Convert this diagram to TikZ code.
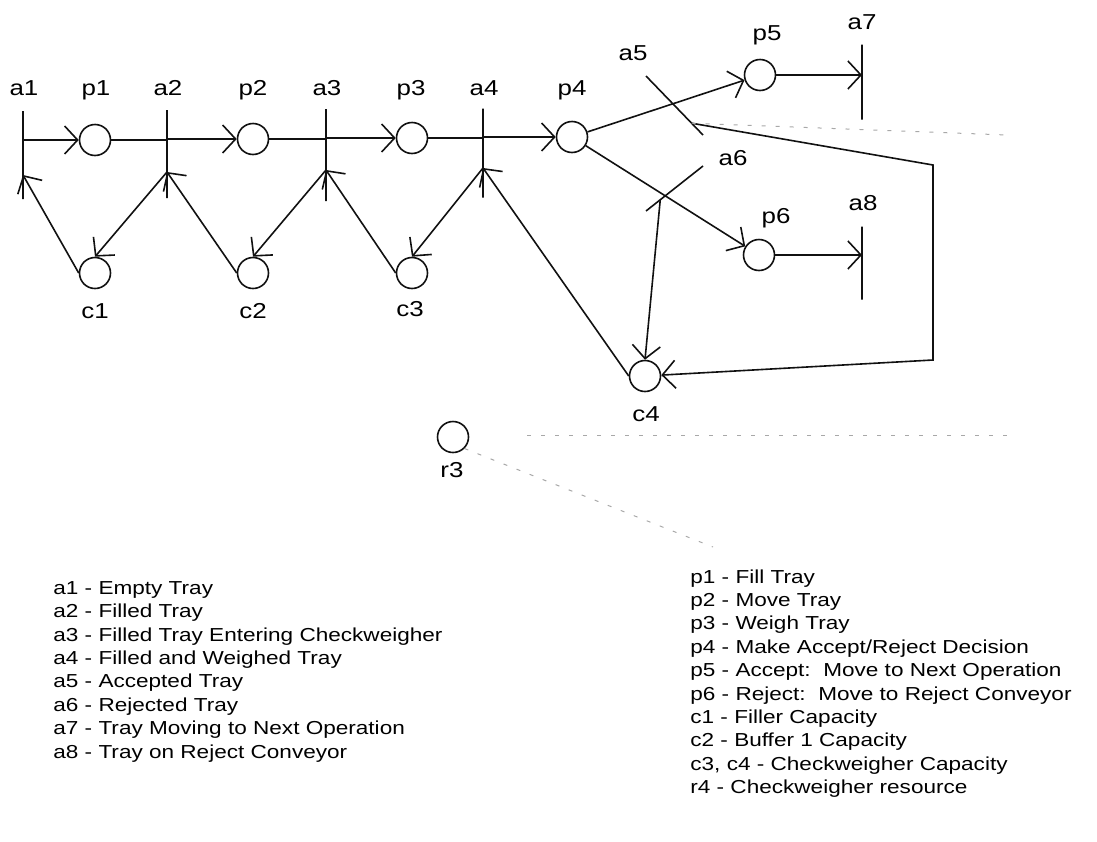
\documentclass[tikz,border=0pt]{standalone}
\usepackage{fontspec}
\setmainfont{Liberation Sans}[FakeStretch=1.2]
\usepackage{tikz}
\usetikzlibrary{calc,arrows.meta}
\definecolor{inkc}{HTML}{111111}
\definecolor{fadec}{HTML}{A8A8A8}
\tikzset{
  ar/.style={-{Straight Barb[length=6.5pt,width=14pt]},line width=0.8pt,inkc},
  ln/.style={line width=0.8pt,inkc},
  pl/.style={circle,draw=inkc,line width=0.8pt,minimum size=15.5pt,inner sep=0pt},
  tr/.style={draw=inkc,line width=0.8pt,inner sep=0pt,minimum width=0pt,minimum height=#1},
  lb/.style={anchor=base,inner sep=0pt,font=\fontsize{10.8}{12}\selectfont},
  lg/.style={anchor=north west,align=left,inner sep=0pt,font=\fontsize{9.4}{11.7}\selectfont},
  fnt/.style={fadec,line width=0.5pt,dash pattern=on 2pt off 5pt}
}
\begin{document}
\begin{tikzpicture}[x=0.5pt,y=-0.5pt]
\useasboundingbox (0,0) rectangle (1097,841);
% places
\node[pl] (p1) at (95,140) {};\node[pl] (p2) at (253,139) {};
\node[pl] (p3) at (412,138) {};\node[pl] (p4) at (572,137) {};
\node[pl] (p5) at (760,75) {};\node[pl] (p6) at (759,255) {};
\node[pl] (c1) at (95,273) {};\node[pl] (c2) at (253,273) {};
\node[pl] (c3) at (412,273) {};\node[pl] (c4) at (645,376) {};
\node[pl] (r3) at (453,437) {};
% transitions
\node[tr=44pt] (a1) at (23,155) {};\node[tr=44pt] (a2) at (167,154) {};
\node[tr=46pt] (a3) at (326,155) {};\node[tr=44.5pt] (a4) at (483,153) {};
\node[tr=37.5pt] (a7) at (862,82) {};\node[tr=36.5pt] (a8) at (862,263) {};
\coordinate (a5s) at (646,76);\coordinate (a5e) at (703,135);
\coordinate (a6s) at (646,211);\coordinate (a6e) at (703,166);
\draw[ln] (a5s) -- (a5e);\draw[ln] (a6s) -- (a6e);
\coordinate (a5) at (intersection of p4--p5 and a5s--a5e);
\coordinate (a6) at (intersection of p4--p6 and a6s--a6e);
\coordinate (k1) at (933,165);\coordinate (k2) at (933,360);
% arcs
\draw[ar] (a1 |- p1) -- (p1);\draw[ln] (p1) -- (a2 |- p1);
\draw[ar] (a2 |- p2) -- (p2);\draw[ln] (p2) -- (a3 |- p2);
\draw[ar] (a3 |- p3) -- (p3);\draw[ln] (p3) -- (a4 |- p3);
\draw[ar] (a4 |- p4) -- (p4);
\draw[ln] (p4) -- (a5);\draw[ar] (a5) -- (p5);
\draw[ln] (p4) -- (a6);\draw[ar] (a6) -- (p6);
\draw[ar] (p5) -- (a7 |- p5);\draw[ar] (p6) -- (a8 |- p6);
\draw[ar] (c1.west) -- ($(a1)+(0,20)$);\draw[ar] ($(a2)+(0,18)$) -- (c1.north);
\draw[ar] (c2.west) -- ($(a2)+(0,18)$);\draw[ar] ($(a3)+(0,15)$) -- (c2.north);
\draw[ar] (c3.west) -- ($(a3)+(0,15)$);\draw[ar] ($(a4)+(0,15)$) -- (c3.north);
\draw[ar] (c4.west) -- ($(a4)+(0,15)$);
\draw[ar] ($(a6s)!0.25!(a6e)$) -- (c4.north);
\draw[ar] ($(a5s)!0.8!(a5e)$) -- (k1) -- (k2) -- (c4);
% faint lines
\coordinate (f1) at (1007,135);\coordinate (f2) at (527,435);
\coordinate (f3) at (1007,435);\coordinate (f4) at (713,547);
\draw[fnt] ($(a5s)!0.8!(a5e)$) -- (f1);
\draw[fnt] (f2) -- (f3);
\draw[fnt] (r3.south east) -- (f4);
% labels
\node[lb] (la1) at (24,95) {a1};\node[lb] (lp1) at (96,95) {p1};
\node[lb] (la2) at (168,95) {a2};\node[lb] (lp2) at (253,95) {p2};
\node[lb] (la3) at (327,95) {a3};\node[lb] (lp3) at (411,95) {p3};
\node[lb] (la4) at (484,95) {a4};\node[lb] (lp4) at (572,95) {p4};
\node[lb] (la5) at (633,60) {a5};\node[lb] (lp5) at (767,40) {p5};
\node[lb] (la7) at (862,29) {a7};\node[lb] (la6) at (733,165) {a6};
\node[lb] (lp6) at (776,223) {p6};\node[lb] (la8) at (863,210) {a8};
\node[lb] (lc1) at (95,318) {c1};\node[lb] (lc2) at (253,318) {c2};
\node[lb] (lc3) at (410,316) {c3};\node[lb] (lc4) at (646,421) {c4};
\node[lb] (lr3) at (452,477) {r3};
% legend
\node[lg] (lega) at (53,581)
 {a1 - Empty Tray\\a2 - Filled Tray\\a3 - Filled Tray Entering Checkweigher\\a4 - Filled and Weighed Tray\\
  a5 - Accepted Tray\\a6 - Rejected Tray\\a7 - Tray Moving to Next Operation\\a8 - Tray on Reject Conveyor};
\node[lg] (legp) at (690,569)
 {p1 - Fill Tray\\p2 - Move Tray\\p3 - Weigh Tray\\p4 - Make Accept/Reject Decision\\
  p5 - Accept:\ \ Move to Next Operation\\p6 - Reject:\ \ Move to Reject Conveyor\\c1 - Filler Capacity\\
  c2 - Buffer 1 Capacity\\c3, c4 - Checkweigher Capacity\\r4 - Checkweigher resource};
\end{tikzpicture}
\end{document}
